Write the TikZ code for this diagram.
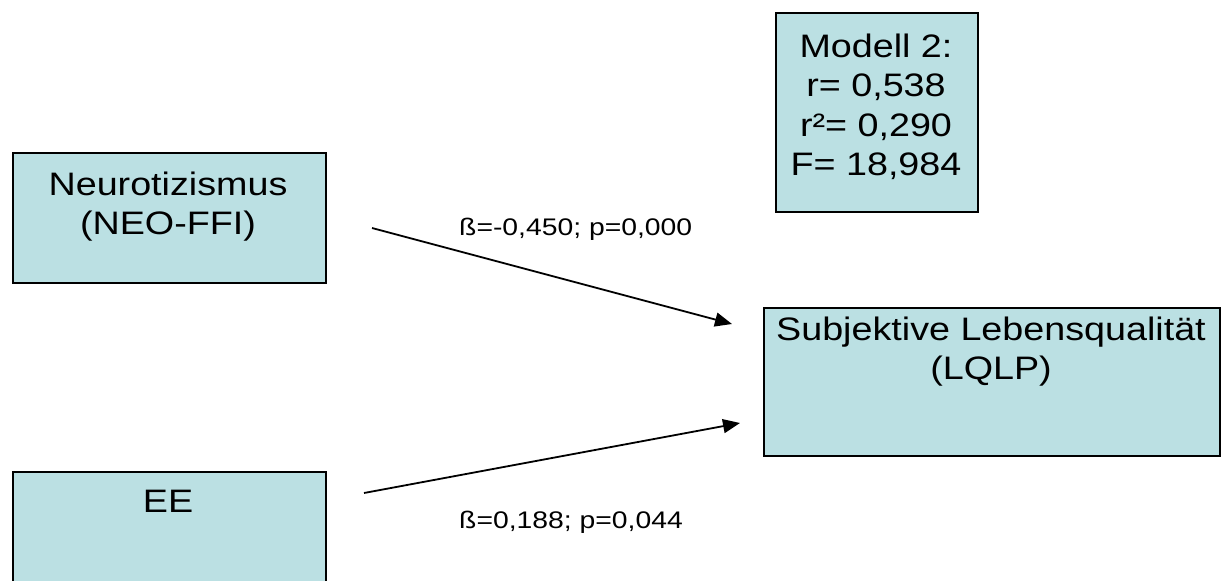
\documentclass[tikz,border=0pt]{standalone}
\usepackage{fontspec}
\usetikzlibrary{arrows.meta}
\newfontfamily\boxfont[FakeStretch=1.16]{Liberation Sans}
\newfontfamily\labfont[FakeStretch=1.18]{Liberation Sans}
\definecolor{boxfill}{RGB}{187,224,227}
\begin{document}
\begin{tikzpicture}[x=1pt,y=-1pt,
  box/.style={draw=black, fill=boxfill, line width=1.6pt, inner sep=0pt, anchor=north west},
  boxtext/.style={font=\boxfont\fontsize{32.5}{39.5}\selectfont, align=center, inner sep=0pt, anchor=base},
  coef/.style={font=\labfont\fontsize{24}{28}\selectfont, inner sep=0pt, anchor=base west},
  path/.style={line width=1.8pt, -{Triangle[length=17pt,width=14pt]}}]
  \useasboundingbox (0,0) rectangle (1221,581);
  \clip (0,0) rectangle (1221,581);

  % model summary (text anchored at the baseline of its last line)
  \node[box, minimum width=202pt, minimum height=199pt] (model) at (775,12) {};
  \node[boxtext] (modeltext) at (876,175.5) {Modell 2:\\r= 0,538\\r²= 0,290\\F= 18,984};

  % predictors
  \node[box, minimum width=313pt, minimum height=130pt] (neuro) at (12,152) {};
  \node[boxtext] (neurotext) at (168,234.5) {Neurotizismus\\(NEO-FFI)};

  \node[box, minimum width=313pt, minimum height=130pt] (ee) at (12,471) {};
  \node[boxtext] (eetext) at (168,512) {EE};

  % outcome
  \node[box, minimum width=456pt, minimum height=148pt] (lqlp) at (763,307) {};
  \node[boxtext] (lqlptext) at (991,379.5) {Subjektive Lebensqualität\\(LQLP)};

  % regression paths
  \coordinate (p1s) at (372,228);
  \coordinate (p1e) at (732,324);
  \coordinate (p2s) at (364,493);
  \coordinate (p2e) at (740,423);
  \draw[path] (p1s) -- (p1e);
  \draw[path] (p2s) -- (p2e);
  \node[coef] (c1) at (459,235) {ß=-0,450; p=0,000};
  \node[coef] (c2) at (459,528) {ß=0,188; p=0,044};
\end{tikzpicture}
\end{document}
